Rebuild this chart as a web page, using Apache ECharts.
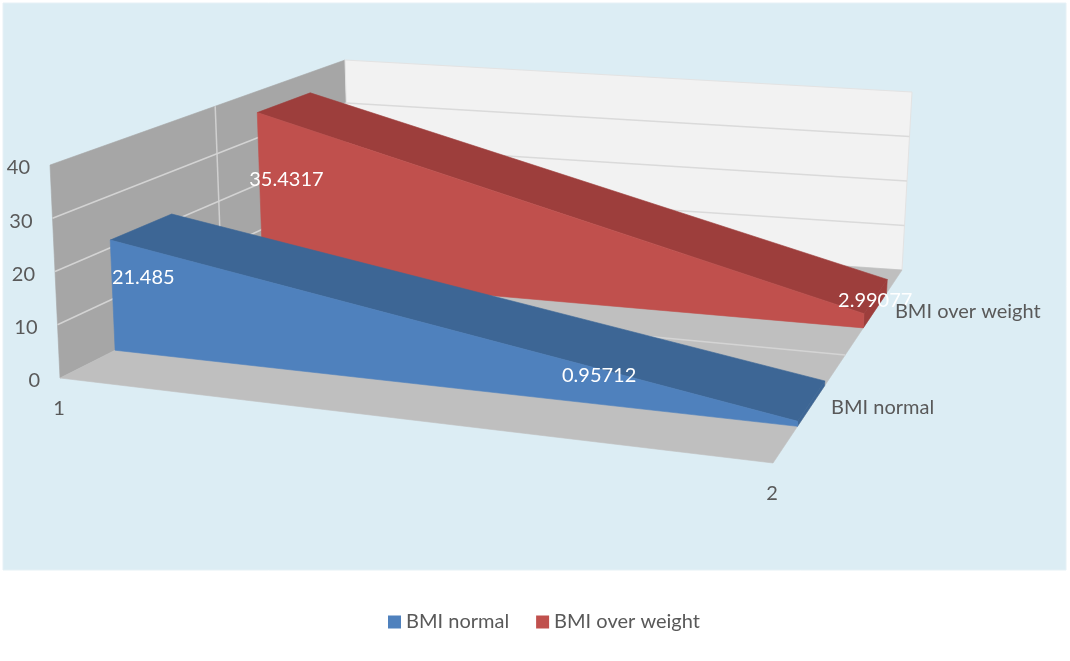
<!DOCTYPE html>
<html>
<head>
<meta charset="utf-8">
<script src="https://cdn.jsdelivr.net/npm/echarts@6/dist/echarts.min.js"></script>
<style>
html,body{margin:0;padding:0;background:#fff}
#main{width:1070px;height:661px}
</style>
</head>
<body>
<div id="main"></div>
<script>
var categories = ['1', '2'];
var seriesNames = ['BMI normal', 'BMI over weight'];
var bmiNormal = [21.485, 0.95712];
var bmiOverWeight = [35.4317, 2.99077];
var valueTicks = [0, 10, 20, 30, 40];

var seriesValues = [bmiNormal, bmiOverWeight];
var seriesColors = [
  {front: '#4F81BD', top: '#3D6695'},
  {front: '#C0504D', top: '#9D3E3C'}
];
// depth slot of each series (0 = front edge of floor, 1 = back wall)
var seriesDepth = [[0.19, 0.40], [0.70, 0.88]];
var depthGrid = 0.56;
// the label of the last blue point was moved by hand in the original
var labelNudge = {'0-1': [-212, -25]};

// corners of the 3d box on screen: floor (value 0) and top (value max)
var FL = [60, 378], FR = [773, 463], BL = [350, 232], BR = [902, 270];
var TFL = [50, 165], TFR = [780, 243], TBL = [345, 60], TBR = [912, 92];

var FONT = 'Lato, "Open Sans", sans-serif';
var TEXT = '#595959';

function lerp(a, b, k) { return [a[0] + (b[0] - a[0]) * k, a[1] + (b[1] - a[1]) * k]; }
function bilerp(f0, f1, b0, b1, u, t) { return lerp(lerp(f0, f1, u), lerp(b0, b1, u), t); }
// u: along categories, t: depth, h: height (0..1)
function project(u, t, h) {
  var f = bilerp(FL, FR, BL, BR, u, t);
  var top = bilerp(TFL, TFR, TBL, TBR, u, t);
  return lerp(f, top, h);
}
// read a value through the hidden cartesian axes, give back u and h in 0..1
function norm(params, api, cat, val) {
  var cs = params.coordSys;
  var p = api.coord([cat, val]);
  return [(p[0] - cs.x) / cs.width, (cs.y + cs.height - p[1]) / cs.height];
}
function poly(pts, fill, stroke, lw) {
  return {type: 'polygon', shape: {points: pts}, style: {fill: fill, stroke: stroke || fill, lineWidth: lw == null ? 0.6 : lw}};
}
function line(a, b, color, lw) {
  return {type: 'line', shape: {x1: a[0], y1: a[1], x2: b[0], y2: b[1]}, style: {stroke: color, lineWidth: lw || 1.5}};
}
function text(str, p, fill, align) {
  return {type: 'text', style: {text: str, x: p[0], y: p[1], fill: fill, font: '20px ' + FONT, align: align || 'center', verticalAlign: 'middle'}};
}

function renderFrame(params, api) {
  var i = params.dataIndex;
  var children = [];
  var v = valueTicks[i];
  var h = norm(params, api, 0, v)[1];
  if (i === 0) {
    children.push({type: 'rect', shape: {x: 3, y: 3, width: 1063, height: 567}, style: {fill: '#DCEDF4', stroke: '#E6F1F6', lineWidth: 1}});
    children.push(poly([project(0, 0, 0), project(0, 1, 0), project(0, 1, 1), project(0, 0, 1)], '#A6A6A6'));
    children.push(poly([project(0, 1, 0), project(1, 1, 0), project(1, 1, 1), project(0, 1, 1)], '#F2F2F2', '#E3E3E3', 1));
    children.push(poly([project(0, 0, 0), project(1, 0, 0), project(1, 1, 0), project(0, 1, 0)], '#BFBFBF'));
    children.push(line(project(0, depthGrid, 0), project(1, depthGrid, 0), '#D4D4D4'));
    children.push(line(project(0, depthGrid, 0), project(0, depthGrid, 1), '#D0D0D0'));
    for (var c = 0; c < categories.length; c++) {
      var u = norm(params, api, c, 0)[0];
      var p = project(u, 0, 0);
      children.push(text(categories[c], [p[0] - 1, p[1] + 31], TEXT));
    }
  }
  if (v > valueTicks[0] && v < valueTicks[valueTicks.length - 1]) {
    children.push(line(project(0, 0, h), project(0, 1, h), '#D3D3D3'));
    children.push(line(project(0, 1, h), project(1, 1, h), '#DADADA'));
  }
  var lp = project(0, 0, h);
  children.push(text(String(v), [lp[0] - 20, lp[1] + 3], TEXT, 'right'));
  return {type: 'group', children: children};
}

function makeAreaRenderer(k) {
  var vals = seriesValues[k];
  var t0 = seriesDepth[k][0], t1 = seriesDepth[k][1], tm = (t0 + t1) / 2;
  var col = seriesColors[k];
  return function (params, api) {
    var i = params.dataIndex;
    var n = vals.length;
    var children = [];
    if (i < n - 1) {
      var a = norm(params, api, i, vals[i]);
      var b = norm(params, api, i + 1, vals[i + 1]);
      children.push(poly([project(a[0], t0, a[1]), project(a[0], t1, a[1]), project(b[0], t1, b[1]), project(b[0], t0, b[1])], col.top));
      if (i === n - 2) {
        children.push(poly([project(b[0], t0, b[1]), project(b[0], t1, b[1]), project(b[0], t1, 0), project(b[0], t0, 0)], col.top));
      }
      children.push(poly([project(a[0], t0, 0), project(a[0], t0, a[1]), project(b[0], t0, b[1]), project(b[0], t0, 0)], col.front));
    }
    // value label at the middle of the slab
    var q = norm(params, api, i, vals[i]);
    var lp = project(q[0], tm, q[1] / 2);
    var nudge = labelNudge[k + '-' + i] || [0, 0];
    children.push(text(String(vals[i]), [lp[0] + nudge[0], lp[1] - 3 + nudge[1]], '#FFFFFF'));
    if (i === n - 1) {
      var sp = project(1, tm, 0);
      children.push(text(seriesNames[k], [sp[0] + 20, sp[1] + 1], TEXT, 'left'));
    }
    return {type: 'group', children: children};
  };
}

var chart = echarts.init(document.getElementById('main'));
var option = {
  animation: false,
  grid: {left: 100, top: 100, width: 100, height: 100, show: false},
  xAxis: {type: 'category', data: categories, boundaryGap: false, show: false},
  yAxis: {type: 'value', min: 0, max: 40, interval: 10, show: false},
  legend: {
    data: seriesNames,
    left: 383,
    top: 607,
    icon: 'rect',
    itemWidth: 13,
    itemHeight: 13,
    itemGap: 27,
    textStyle: {color: TEXT, fontSize: 20, fontFamily: FONT}
  },
  series: [
    {
      type: 'custom',
      name: 'frame',
      z: 1,
      silent: true,
      renderItem: renderFrame,
      data: valueTicks.map(function (v) { return [0, v]; })
    },
    {
      type: 'custom',
      name: seriesNames[0],
      z: 4,
      silent: true,
      itemStyle: {color: seriesColors[0].front},
      renderItem: makeAreaRenderer(0),
      data: bmiNormal.map(function (v, i) { return [i, v]; })
    },
    {
      type: 'custom',
      name: seriesNames[1],
      z: 3,
      silent: true,
      itemStyle: {color: seriesColors[1].front},
      renderItem: makeAreaRenderer(1),
      data: bmiOverWeight.map(function (v, i) { return [i, v]; })
    }
  ]
};
chart.setOption(option);
</script>
</body>
</html>
